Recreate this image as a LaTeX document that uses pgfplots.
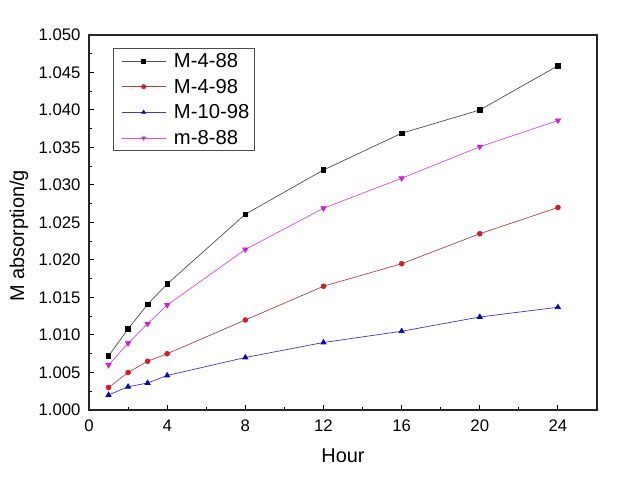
\documentclass[border=0pt]{standalone}
\usepackage{fontspec}
\setmainfont{Liberation Sans}
\usepackage{pgfplots}
\pgfplotsset{compat=1.18}
\definecolor{cblack}{RGB}{20,20,20}
\definecolor{cred}{RGB}{210,30,40}
\definecolor{cblue}{RGB}{10,10,170}
\definecolor{cmag}{RGB}{210,30,210}
\begin{document}
\begin{tikzpicture}[x=1bp,y=1bp]
\useasboundingbox (0,0) rectangle (642,479);
\begin{axis}[
  at={(89bp,69bp)}, anchor=south west,
  scale only axis, width=508bp, height=375bp,
  xmin=0, xmax=26, ymin=1.000, ymax=1.050,
  xtick={0,4,8,12,16,20,24},
  minor xtick={2,6,10,14,18,22,26},
  ytick={1.000,1.005,1.010,1.015,1.020,1.025,1.030,1.035,1.040,1.045,1.050},
  minor ytick={1.0025,1.0075,1.0125,1.0175,1.0225,1.0275,1.0325,1.0375,1.0425,1.0475},
  yticklabel style={xshift=-5bp, /pgf/number format/.cd,fixed,fixed zerofill,precision=3},
  /pgf/number format/assume math mode=true,
  scaled y ticks=false,
  tick align=inside,
  xtick pos=bottom, ytick pos=left,
  major tick length=5bp, minor tick length=3bp,
  axis line style={line width=1.2bp, black!85},
  every tick/.style={line width=1bp, black},
  tick label style={font=\fontsize{16.8}{18}\selectfont},
  xticklabel style={anchor=center, yshift=-16bp},
  xlabel={Hour}, ylabel={M absorption/g},
  label style={font=\fontsize{20}{22}\selectfont},
  xlabel style={at={(axis description cs:0.5,-0.1213)}, anchor=center},
  ylabel style={at={(axis description cs:-0.1378,0.464)}, anchor=center},
  legend style={at={(axis description cs:0.0472,0.9653)}, anchor=north west,
    font=\fontsize{20.3}{22}\selectfont, draw=black!70, line width=0.6bp,
    inner xsep=3bp, inner ysep=3bp, row sep=6bp},
  legend cell align=left,
  every axis plot/.append style={line width=0.7bp},
  legend image code/.code={\path (-5bp,0bp) (50bp,0bp); \draw[#1] (0bp,0bp) -- (44bp,0bp); \draw[#1,mark repeat=1,mark size=2.1bp] plot coordinates {(22bp,0bp)};},
]
\addplot[color=black!70, mark=square*, mark size=2.3bp, mark options={fill=black,draw=black}] coordinates {
(1,1.0072) (2,1.0108) (3,1.0141) (4,1.0168) (8,1.0261) (12,1.0320) (16,1.0369) (20,1.0400) (24,1.0459)};
\addlegendentry{M-4-88}
\addplot[color=cred!70!black!80, mark=*, mark size=2.4bp, mark options={fill=cred,draw=cred}] coordinates {
(1,1.0030) (2,1.0050) (3,1.0065) (4,1.0075) (8,1.0120) (12,1.0165) (16,1.0195) (20,1.0235) (24,1.0270)};
\addlegendentry{M-4-98}
\addplot[color=cblue!80, mark=triangle*, mark size=3bp, mark options={fill=cblue,draw=cblue}] coordinates {
(1,1.0020) (2,1.0031) (3,1.0036) (4,1.0046) (8,1.0070) (12,1.0090) (16,1.0105) (20,1.0124) (24,1.0137)};
\addlegendentry{M-10-98}
\addplot[color=cmag!80, mark=triangle*, mark size=3bp, mark options={fill=cmag,draw=cmag,rotate=180}] coordinates {
(1,1.0060) (2,1.0089) (3,1.0115) (4,1.0140) (8,1.0214) (12,1.0269) (16,1.0309) (20,1.0351) (24,1.0386)};
\addlegendentry{m-8-88}
\end{axis}
\end{tikzpicture}
\end{document}
